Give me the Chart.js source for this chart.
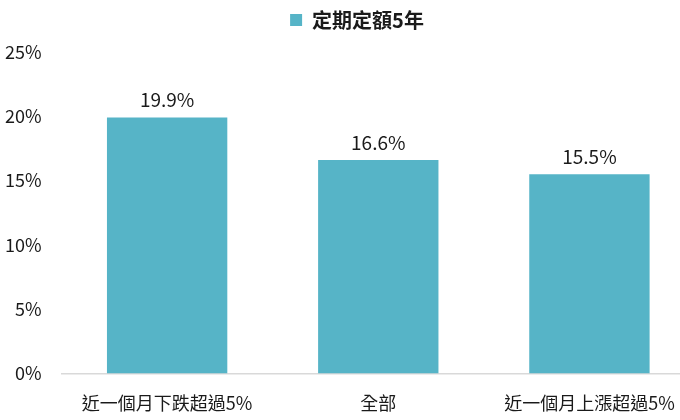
<!DOCTYPE html>
<html>
<head>
<meta charset="utf-8">
<script src="https://cdn.jsdelivr.net/npm/chart.js@4"></script>
<style>
  html, body { margin: 0; padding: 0; background: #fff; overflow: hidden; }
  canvas { display: block; }
</style>
</head>
<body>
<canvas id="myChart" width="700" height="420"></canvas>
<script>
var labels = ['近一個月下跌超過5%', '全部', '近一個月上漲超過5%'];
var seriesName = '定期定額5年';
var values = [19.9, 16.6, 15.5];
var yTicks = [0, 5, 10, 15, 20, 25];

var fontFamily = '"Noto Sans CJK TC", "Noto Sans", sans-serif';

// draws the value above each bar
var valueLabels = {
    id: 'valueLabels',
    afterDatasetsDraw: function(chart) {
        var ctx = chart.ctx;
        var meta = chart.getDatasetMeta(0);
        ctx.save();
        ctx.font = '19px ' + fontFamily;
        ctx.fillStyle = '#1a1a1a';
        ctx.textAlign = 'center';
        ctx.textBaseline = 'bottom';
        meta.data.forEach(function(bar, i) {
            ctx.fillText(values[i].toFixed(1) + '%', bar.x, bar.y - 8);
        });
        ctx.restore();
    }
};

// a bit more room under the legend, and nudge it right a little
var legendSpace = {
    id: 'legendSpace',
    beforeInit: function(chart) {
        var fit = chart.legend.fit;
        chart.legend.fit = function() {
            fit.bind(chart.legend)();
            this.height += 12;
        };
    },
    afterLayout: function(chart) {
        chart.legend.left += 7;
        chart.legend.right += 7;
    }
};

var ctx = document.getElementById('myChart').getContext('2d');
var myChart = new Chart(ctx, {
    type: 'bar',
    data: {
        labels: labels,
        datasets: [{
            label: seriesName,
            data: values,
            backgroundColor: '#56b4c7',
            borderWidth: 0,
            categoryPercentage: 1,
            barPercentage: 0.57
        }]
    },
    options: {
        responsive: false,
        animation: false,
        devicePixelRatio: 1,
        layout: { padding: { left: 5, right: 5, top: 0, bottom: 6 } },
        plugins: {
            legend: {
                display: true,
                position: 'top',
                labels: {
                    boxWidth: 12,
                    boxHeight: 12,
                    color: '#1a1a1a',
                    padding: 10,
                    font: { family: fontFamily, size: 20, weight: 'bold' }
                }
            },
            tooltip: { enabled: false }
        },
        scales: {
            x: {
                grid: { display: false, drawTicks: false },
                border: { display: true, color: '#d9d9d9', width: 1.5 },
                ticks: {
                    color: '#1a1a1a',
                    padding: 19,
                    maxRotation: 0,
                    font: { family: fontFamily, size: 18 }
                },
                afterFit: function(axis) {
                    axis.paddingLeft = 0;
                    axis.paddingRight = 0;
                    axis.height -= axis.options.ticks.padding;
                }
            },
            y: {
                min: 0,
                max: 25,
                grid: { display: false, drawTicks: false },
                border: { display: false },
                afterBuildTicks: function(axis) {
                    axis.ticks = yTicks.map(function(v) { return { value: v }; });
                },
                ticks: {
                    color: '#1a1a1a',
                    padding: 20,
                    font: { family: fontFamily, size: 18 },
                    callback: function(v) { return v + '%'; }
                },
                afterFit: function(axis) {
                    axis.width -= axis.options.ticks.padding;
                }
            }
        }
    },
    plugins: [valueLabels, legendSpace]
});
</script>
</body>
</html>
